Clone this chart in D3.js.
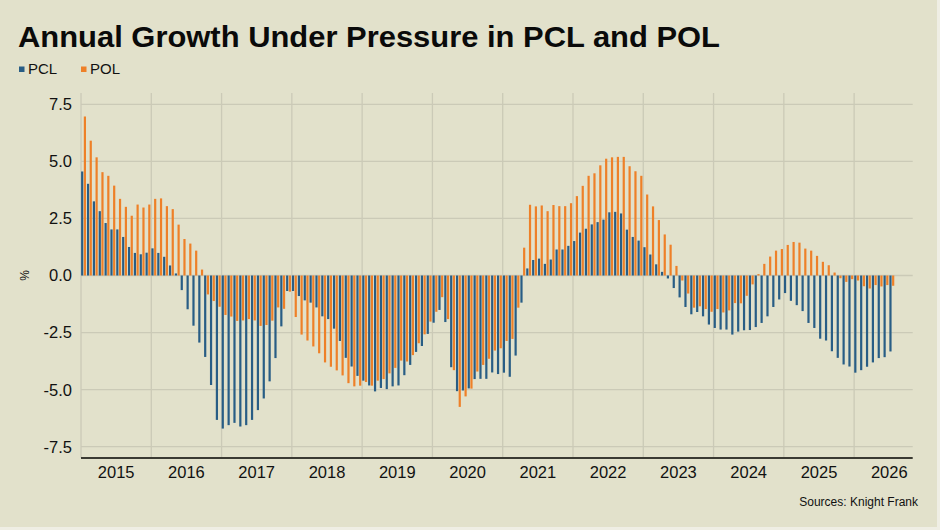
<!DOCTYPE html>
<html>
<head>
<meta charset="utf-8">
<script src="https://cdn.jsdelivr.net/npm/d3@7"></script>
<style>
  html, body { margin: 0; padding: 0; background: #efeee4; }
  svg { display: block; font-family: "Liberation Sans", Arial, sans-serif; }
</style>
</head>
<body>
<svg id="chart" width="940" height="530"></svg>
<script>
// Monthly annual growth (%), Jan 2015 onwards
const START_YEAR = 2015;
const SERIES = ["PCL", "POL"];
const COLORS = ["#285d85", "#ee8028"];

const PCL = [
  4.56, 4.02, 3.25, 2.82, 2.30, 2.02, 2.02, 1.69, 1.25, 0.99, 0.93, 1.00,
  1.19, 0.99, 0.82, 0.44, 0.09, -0.64, -1.48, -2.20, -2.94, -3.57, -4.80, -6.33,
  -6.71, -6.56, -6.46, -6.62, -6.56, -6.33, -5.90, -5.39, -4.64, -3.62, -2.23, -0.68,
  -0.68, -0.90, -1.09, -1.19, -1.40, -1.79, -1.91, -2.33, -2.87, -3.61, -3.99, -4.40,
  -4.61, -4.82, -5.08, -4.93, -4.98, -4.86, -4.82, -4.37, -3.92, -3.35, -3.09, -2.56,
  -2.07, -1.51, -2.04, -4.02, -5.07, -5.04, -4.95, -4.54, -4.53, -4.53, -4.25, -4.32,
  -4.26, -4.44, -3.51, -1.19, 0.31, 0.68, 0.74, 0.51, 0.70, 1.14, 1.14, 1.30,
  1.51, 1.88, 2.05, 2.24, 2.34, 2.45, 2.77, 2.79, 2.72, 2.01, 1.69, 1.53,
  1.24, 0.92, 0.49, 0.16, -0.13, -0.55, -0.96, -1.38, -1.70, -1.60, -1.79, -2.15,
  -2.30, -2.37, -2.37, -2.59, -2.46, -2.40, -2.39, -2.26, -2.08, -1.79, -1.38, -1.05,
  -0.77, -1.11, -1.30, -1.56, -2.08, -2.30, -2.77, -2.85, -3.32, -3.61, -3.90, -3.99,
  -4.26, -4.15, -4.00, -3.81, -3.62, -3.58, -3.33
];

const POL = [
  6.97, 5.91, 5.18, 4.53, 4.37, 3.94, 3.36, 3.01, 2.62, 3.11, 2.98, 3.11,
  3.36, 3.38, 3.04, 2.91, 2.23, 1.60, 1.40, 1.09, 0.26, -0.83, -1.12, -1.37,
  -1.73, -1.80, -1.99, -1.97, -1.91, -1.97, -2.21, -2.17, -1.98, -1.40, -1.46, -0.71,
  -1.82, -2.59, -2.85, -3.11, -3.41, -3.81, -4.00, -4.16, -4.38, -4.72, -4.86, -4.83,
  -4.67, -4.83, -4.61, -4.54, -4.29, -4.05, -3.73, -3.77, -3.49, -2.97, -2.58, -2.02,
  -1.59, -0.95, -1.91, -4.15, -5.76, -5.30, -4.96, -4.21, -3.92, -3.65, -3.29, -3.19,
  -2.87, -2.78, -1.41, 1.22, 3.10, 3.03, 3.07, 2.82, 3.09, 3.04, 3.04, 3.17,
  3.48, 3.93, 4.37, 4.48, 4.83, 5.12, 5.18, 5.20, 5.20, 4.79, 4.57, 4.37,
  3.55, 3.03, 2.43, 1.80, 1.35, 0.42, -0.22, -0.79, -1.41, -1.35, -1.47, -1.59,
  -1.47, -1.62, -1.53, -1.21, -1.22, -0.89, -0.39, 0.06, 0.51, 0.83, 1.09, 1.16,
  1.34, 1.47, 1.44, 1.18, 1.09, 0.86, 0.60, 0.45, 0.13, -0.12, -0.28, -0.16,
  -0.22, -0.47, -0.57, -0.42, -0.48, -0.42, -0.45
];

const YEARS = d3.range(2015, 2027);
const Y_TICKS = [-7.5, -5.0, -2.5, 0, 2.5, 5.0, 7.5];
const MONTHS_SHOWN = 142; // axis runs to Nov 2026

const svg = d3.select("#chart");
const W = 937, H = 527;
const plot = { left: 81, right: 912.7, top: 93, bottom: 458 };

svg.append("rect").attr("width", W).attr("height", H).attr("fill", "#e2e1cb");

const x = d3.scaleLinear().domain([0, MONTHS_SHOWN]).range([plot.left, plot.right]);
const y = d3.scaleLinear().domain([-8, 8]).range([plot.bottom, plot.top]);

// grid
const grid = svg.append("g").attr("stroke", "#cbcab7").attr("stroke-width", 1.3);
grid.selectAll("line.h").data(Y_TICKS).join("line")
  .attr("x1", plot.left).attr("x2", plot.right)
  .attr("y1", d => y(d)).attr("y2", d => y(d));
grid.selectAll("line.v").data(YEARS).join("line")
  .attr("x1", d => x((d - START_YEAR) * 12)).attr("x2", d => x((d - START_YEAR) * 12))
  .attr("y1", plot.top).attr("y2", plot.bottom);

// bars
const barW = 2.2;
const offsets = [0.1, 2.8];
[PCL, POL].forEach((vals, s) => {
  svg.append("g").attr("fill", COLORS[s])
    .selectAll("rect").data(vals).join("rect")
    .attr("x", (d, i) => x(i) + offsets[s])
    .attr("width", barW)
    .attr("y", d => y(Math.max(0, d)))
    .attr("height", d => Math.abs(y(d) - y(0)));
});

// x axis line
svg.append("line")
  .attr("x1", plot.left).attr("x2", plot.right)
  .attr("y1", plot.bottom).attr("y2", plot.bottom)
  .attr("stroke", "#3a3a32").attr("stroke-width", 2);

// y tick labels
svg.append("g").selectAll("text").data(Y_TICKS).join("text")
  .attr("x", 72).attr("y", d => y(d)).attr("dy", "0.36em")
  .attr("text-anchor", "end").attr("font-size", 16.5).attr("fill", "#111")
  .text(d => d.toFixed(1));

// year labels
svg.append("g").selectAll("text").data(YEARS).join("text")
  .attr("x", d => x((d - START_YEAR) * 12 + 6)).attr("y", 478)
  .attr("text-anchor", "middle").attr("font-size", 16.5).attr("fill", "#111")
  .text(d => d);

// % label
svg.append("text")
  .attr("transform", `translate(29, ${y(0)}) rotate(-90)`)
  .attr("text-anchor", "middle").attr("font-size", 12).attr("fill", "#111")
  .text("%");

// title
svg.append("text").attr("x", 18).attr("y", 47)
  .attr("font-size", 30).attr("font-weight", "bold").attr("fill", "#0a0a0a")
  .attr("textLength", 702).attr("lengthAdjust", "spacingAndGlyphs")
  .text("Annual Growth Under Pressure in PCL and POL");

// legend
const legX = [19, 81];
const leg = svg.append("g").selectAll("g").data(SERIES).join("g")
  .attr("transform", (d, i) => `translate(${legX[i]}, 0)`);
leg.append("rect").attr("x", 0).attr("y", 66.5).attr("width", 5.5).attr("height", 5.5)
  .attr("fill", (d, i) => COLORS[i]);
leg.append("text").attr("x", 9).attr("y", 74).attr("font-size", 15).attr("fill", "#111")
  .text(d => d);

// source
svg.append("text").attr("x", 918).attr("y", 506)
  .attr("text-anchor", "end").attr("font-size", 12).attr("fill", "#111")
  .text("Sources: Knight Frank");
</script>
</body>
</html>
